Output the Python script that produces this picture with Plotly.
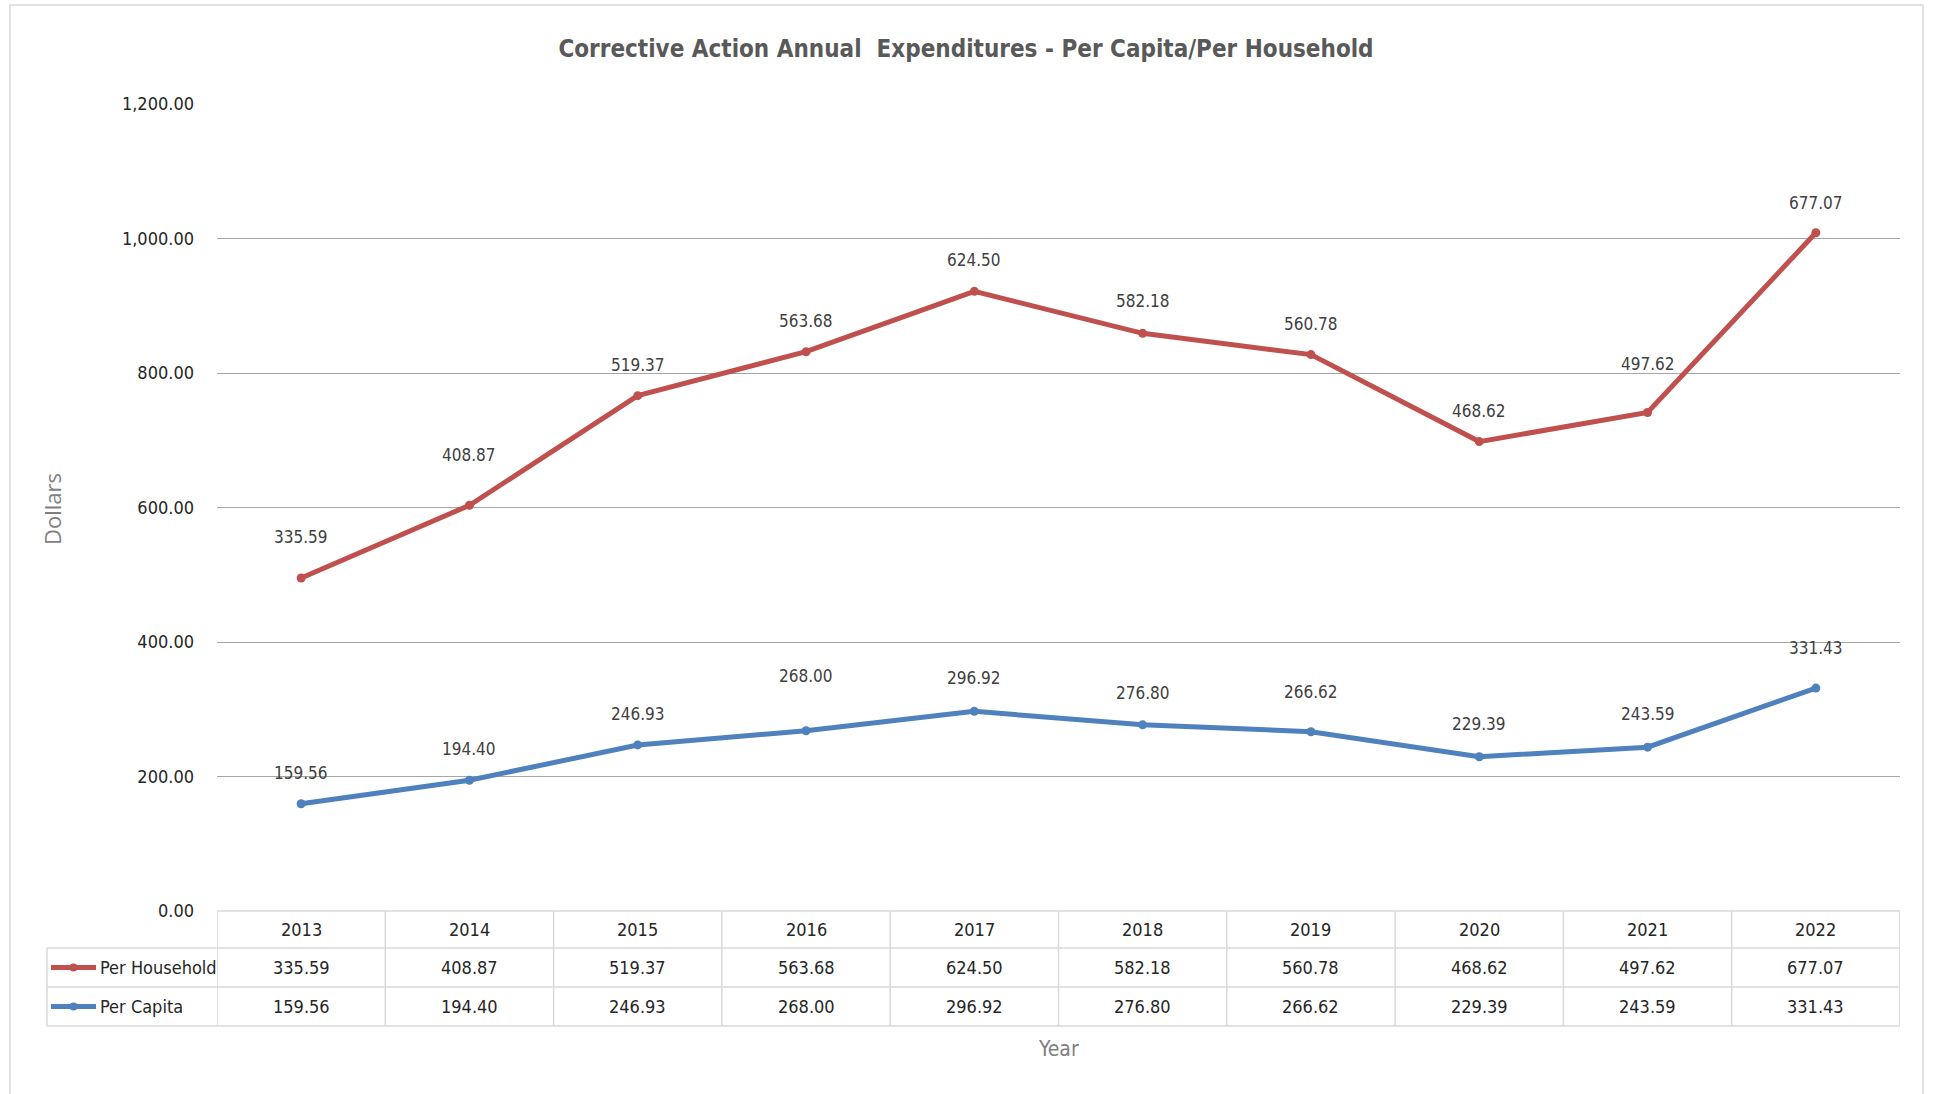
import plotly.graph_objects as go

years = ["2013", "2014", "2015", "2016", "2017", "2018", "2019", "2020", "2021", "2022"]
per_household = [335.59, 408.87, 519.37, 563.68, 624.50, 582.18, 560.78, 468.62, 497.62, 677.07]
per_capita = [159.56, 194.40, 246.93, 268.00, 296.92, 276.80, 266.62, 229.39, 243.59, 331.43]
y_ticks = [0, 200, 400, 600, 800, 1000, 1200]

# label offsets above each point (pixels), as placed in the original
hh_label_shift = [41, 50, 31, 31, 31, 32, 31, 31, 49, 30]
pc_label_shift = [31, 31, 31, 55, 33, 32, 40, 33, 33, 40]

RED = "#C0504D"
BLUE = "#4F81BD"
NARROW = "Liberation Sans Narrow, DejaVu Sans Condensed, Arial Narrow, sans-serif"

W, H = 1935, 1094
L, R, T, B = 217, 1900, 104, 911  # plot area in pixels


def xp(px):
    return (px - L) / (R - L)


def yp(py):
    return (B - py) / (B - T)


fig = go.Figure()
# Excel "stacked line": per capita at bottom, per household stacked on top
fig.add_trace(go.Scatter(
    x=years, y=per_capita, name="Per Capita", stackgroup="s", fill="none",
    mode="lines+markers", line=dict(color=BLUE, width=5),
    marker=dict(color=BLUE, size=9, symbol="circle")))
fig.add_trace(go.Scatter(
    x=years, y=per_household, name="Per Household", stackgroup="s", fill="none",
    mode="lines+markers", line=dict(color=RED, width=5),
    marker=dict(color=RED, size=9, symbol="circle")))

annotations = []
label_font = dict(family=NARROW, size=17, color="#404040")
for i, yr in enumerate(years):
    pc = per_capita[i]
    hh = per_household[i]
    annotations.append(dict(x=i, y=pc, text=f"{pc:,.2f}", showarrow=False,
                            yshift=pc_label_shift[i], font=label_font, xref="x", yref="y",
                            xanchor="center", yanchor="middle"))
    annotations.append(dict(x=i, y=pc + hh, text=f"{hh:,.2f}", showarrow=False,
                            yshift=hh_label_shift[i], font=label_font, xref="x", yref="y",
                            xanchor="center", yanchor="middle"))

# data table
table_font = dict(family=NARROW, size=18, color="#262626")
row_hdr = (911 + 948) / 2
row1 = (948 + 987) / 2
row2 = (987 + 1026) / 2
for i, yr in enumerate(years):
    for py, txt in ((row_hdr, yr), (row1, f"{per_household[i]:,.2f}"), (row2, f"{per_capita[i]:,.2f}")):
        annotations.append(dict(x=i, y=yp(py), text=txt, showarrow=False,
                                xref="x", yref="paper", xanchor="center", yanchor="middle",
                                font=table_font))

annotations.append(dict(x=xp(98), y=yp(row1), text="Per Household", showarrow=False,
                        xref="paper", yref="paper", xanchor="left", yanchor="middle", font=table_font))
annotations.append(dict(x=xp(98), y=yp(row2), text="Per Capita", showarrow=False,
                        xref="paper", yref="paper", xanchor="left", yanchor="middle", font=table_font))

# axis titles
annotations.append(dict(x=xp(1058), y=yp(1049), text="Year", showarrow=False,
                        xref="paper", yref="paper", xanchor="center", yanchor="middle",
                        font=dict(family=NARROW, size=21, color="#7F7F7F")))
annotations.append(dict(x=xp(52), y=yp(509), text="Dollars", showarrow=False, textangle=-90,
                        xref="paper", yref="paper", xanchor="center", yanchor="middle",
                        font=dict(family="Open Sans, DejaVu Sans, sans-serif", size=22, color="#7F7F7F")))

shapes = []
GRID_T = "#D9D9D9"
# horizontal table lines
shapes.append(dict(type="line", xref="paper", yref="paper", x0=0, x1=1, y0=yp(911), y1=yp(911),
                   line=dict(color=GRID_T, width=1.5)))
for py in (948, 987, 1026):
    shapes.append(dict(type="line", xref="paper", yref="paper", x0=xp(47), x1=1, y0=yp(py), y1=yp(py),
                       line=dict(color=GRID_T, width=1.5)))
# vertical table lines
for k in range(len(years) + 1):
    shapes.append(dict(type="line", xref="x", yref="paper", x0=k - 0.5, x1=k - 0.5,
                       y0=yp(911), y1=yp(1026), line=dict(color=GRID_T, width=1.5)))
shapes.append(dict(type="line", xref="paper", yref="paper", x0=xp(47), x1=xp(47),
                   y0=yp(948), y1=yp(1026), line=dict(color=GRID_T, width=1.5)))
# legend keys
for py, col in ((row1, RED), (row2, BLUE)):
    shapes.append(dict(type="line", xref="paper", yref="paper", x0=xp(51), x1=xp(96),
                       y0=yp(py), y1=yp(py), line=dict(color=col, width=5)))
    shapes.append(dict(type="circle", xref="paper", yref="paper",
                       x0=xp(69.5), x1=xp(77.5), y0=yp(py + 4), y1=yp(py - 4),
                       fillcolor=col, line=dict(color=col, width=0)))
# outer chart border
shapes.append(dict(type="rect", xref="paper", yref="paper", x0=xp(10), x1=xp(1923),
                   y0=yp(1100), y1=yp(5), line=dict(color="#D9D9D9", width=1.5)))

fig.update_layout(
    width=W, height=H,
    margin=dict(l=L, r=W - R, t=T, b=H - B),
    paper_bgcolor="white", plot_bgcolor="white",
    showlegend=False,
    title=dict(text="<b>Corrective Action Annual  Expenditures - Per Capita/Per Household</b>",
               x=966 / W, xref="container", xanchor="center",
               y=1 - 49 / H, yref="container", yanchor="middle",
               font=dict(family=NARROW, size=24, color="#595959")),
    xaxis=dict(type="category", range=[-0.5, len(years) - 0.5], showticklabels=False,
               showgrid=False, zeroline=False, showline=False),
    yaxis=dict(range=[0, 1200], tickvals=y_ticks, tickformat=",.2f",
               showgrid=True, gridcolor="#A6A6A6", gridwidth=1.2, zeroline=False, showline=False,
               ticks="", ticklabelstandoff=22,
               tickfont=dict(family=NARROW, size=18, color="#262626")),
    annotations=annotations,
    shapes=shapes,
)

fig.write_html("out.html", config={"displayModeBar": False},
               post_script="document.body.style.margin='0px';")
